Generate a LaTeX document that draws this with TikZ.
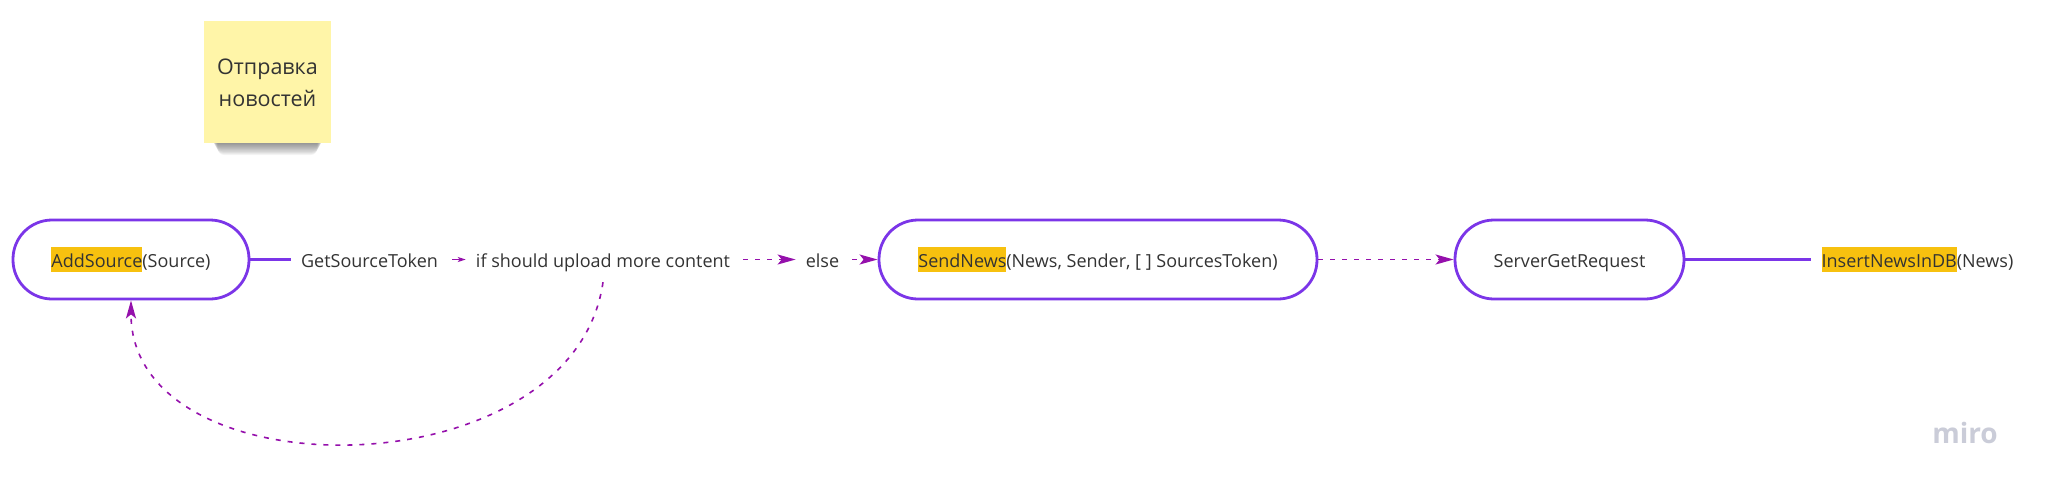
\documentclass[tikz,border=0pt]{standalone}
\usepackage{fontspec}
\setmainfont{Open Sans}
\usetikzlibrary{arrows.meta}
\definecolor{txt}{HTML}{333333}
\definecolor{bord}{HTML}{7B35E8}
\definecolor{arr}{HTML}{9510AC}
\definecolor{hlc}{HTML}{F7C10F}
\definecolor{sticky}{HTML}{FFF5A8}
\definecolor{mirog}{HTML}{CACCD8}
\newcommand{\hlword}[1]{{\setlength{\fboxsep}{0pt}\colorbox{hlc}{\rule[-0.28em]{0pt}{1.39em}#1}}}
\begin{document}
\begin{tikzpicture}[x=1pt,y=-1pt,
  every node/.style={text=txt, font=\fontsize{18}{22}\selectfont},
  proc/.style={draw=bord, line width=2.8pt, rounded corners=39pt, minimum height=79pt,
    inner sep=0pt, text height=20pt, text depth=5pt},
  lbl/.style={inner xsep=10pt, inner ysep=3pt, text height=20pt, text depth=5pt},
  solidc/.style={draw=bord, line width=2.8pt},
  dashc/.style={draw=arr, line width=1.6pt, dash pattern=on 5pt off 7pt,
    -{Stealth[length=18pt,width=10pt,inset=4pt]}},
  smallc/.style={draw=arr, line width=1.6pt, -{Stealth[length=8pt,width=5pt,inset=2pt]}}
]
\fill[white] (0,0) rectangle (2046,488);
\useasboundingbox (0,0) rectangle (2046,488);

% sticky note with shadow
\foreach \i in {0,...,11}
  \fill[black, opacity=0.045, rounded corners=7pt] (211+0.6*\i,110) rectangle (324-0.6*\i,143+1.1*\i);
\fill[sticky] (204,21) rectangle (331,143);
\node[align=center, font=\fontsize{21.5}{32}\selectfont] (note) at (267.5,83) {Отправка\\новостей};

% process nodes and labels
\node[proc, minimum width=236pt] (add) at (131,259.5) {\hlword{AddSource}(Source)};
\node[lbl] (gst) at (369.5,259.5) {GetSourceToken};
\node[lbl] (ifn) at (603,259.5) {if should upload more content};
\node[lbl] (els) at (822.5,259.5) {else};
\node[proc, minimum width=438pt] (send) at (1098,259.5) {\hlword{SendNews}(News, Sender, [ ] SourcesToken)};
\node[proc, minimum width=229pt] (srv) at (1569.5,259.5) {ServerGetRequest};
\node[lbl] (ins) at (1917.5,259.5) {\hlword{InsertNewsInDB}(News)};

% connectors
\draw[solidc] (add.east) -- (gst.west);
\draw[smallc, shorten <=4pt] (gst.east) -- (ifn.west);
\draw[dashc, shorten <=3pt] (ifn.east) -- (els.west);
\draw[dashc, shorten <=3pt] (els.east) -- (send.west);
\draw[dashc] (send.east) -- (srv.west);
\draw[solidc] (srv.east) -- (ins.west);
\draw[dashc] ([yshift=-7pt]ifn.south) .. controls +(-30,210) and +(0,195) .. (add.south);

% watermark
\node[text=mirog, font=\fontsize{28}{30}\selectfont\bfseries] (miro) at (1965,433) {miro};
\end{tikzpicture}
\end{document}
